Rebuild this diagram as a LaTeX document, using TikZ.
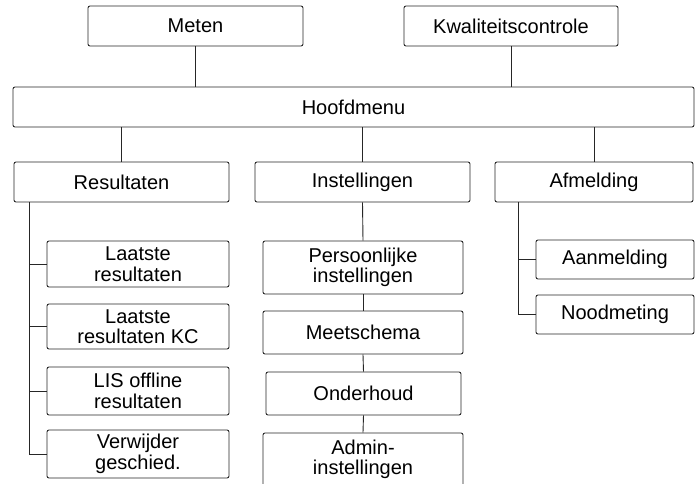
\documentclass[tikz,border=0pt]{standalone}
\usepackage{fontspec}
\setmainfont{Liberation Sans}
\usepackage{xcolor}
\usepackage{tikz}
\usetikzlibrary{positioning,calc}
\tikzset{
    menu/.style={draw=black!85,line width=0.9pt,rounded corners=2pt,fill=white,
        align=center,inner sep=0pt,font=\fontsize{20}{20.5}\selectfont},
    wide/.style={menu,minimum width=215pt,minimum height=40pt},
    sub/.style={menu,minimum width=182pt},
    link/.style={draw=black!85,line width=0.9pt}
}
\begin{document}
\begin{tikzpicture}[x=1pt,y=-1pt]
  \clip (0,0) rectangle (697,484);
  % top level
  \node[wide] (meten) at (195.5,26) {Meten};
  \node[wide,minimum width=214pt] (kc) at (511,26) {Kwaliteitscontrole};
  \node[menu,minimum width=681pt,minimum height=40pt] (hoofd) at (353.5,107) {Hoofdmenu};
  % second level
  \node[wide] (res) at (121.5,182) {Resultaten};
  \node[wide] (inst) at (362.5,182) {Instellingen};
  \node[wide,minimum width=198pt] (afm) at (594,182) {Afmelding};
  % Resultaten submenu
  \node[sub,minimum height=46pt] (lr) at (138,264) {Laatste\\resultaten};
  \node[sub,minimum height=45pt] (lrkc) at (138,326.5) {Laatste\\resultaten KC};
  \node[sub,minimum height=48pt] (lis) at (138,391) {LIS offline\\resultaten};
  \node[sub,minimum height=48pt] (verw) at (138,454) {Verwijder\\geschied.};
  % Instellingen submenu
  \node[menu,minimum width=200pt,minimum height=53pt] (pers) at (363,267.5) {Persoonlijke\\instellingen};
  \node[menu,minimum width=200pt,minimum height=43pt] (meet) at (363,332.5) {Meetschema};
  \node[menu,minimum width=195pt,minimum height=43pt] (ond) at (363.5,393.5) {Onderhoud};
  \node[menu,minimum width=200pt,minimum height=53pt] (admin) at (363,459.5) {Admin-\\instellingen};
  % Afmelding submenu
  \node[menu,minimum width=158pt,minimum height=39pt] (aanm) at (615,259.5) {Aanmelding};
  \node[menu,minimum width=158pt,minimum height=39pt] (nood) at (615,314.5) {Noodmeting};
  % links to Hoofdmenu
  \draw[link] (meten) -- (meten |- hoofd.north);
  \draw[link] (kc) -- (kc |- hoofd.north);
  \draw[link] (res.north) -- (res |- hoofd.south);
  \draw[link] (inst.north) -- (inst |- hoofd.south);
  \draw[link] (afm.north) -- (afm |- hoofd.south);
  % Resultaten trunk
  \coordinate (rt) at (29,202);
  \draw[link] (rt) |- (verw.west);
  \draw[link] (rt |- lr.west) -- (lr.west);
  \draw[link] (rt |- lrkc.west) -- (lrkc.west);
  \draw[link] (rt |- lis.west) -- (lis.west);
  % Instellingen chain
  \draw[link] (inst.south) -- (pers.north);
  \draw[link] (pers.south) -- (meet.north);
  \draw[link] (meet.south) -- (ond.north);
  \draw[link] (ond.south) -- (admin.north);
  % Afmelding trunk
  \coordinate (at) at (518,202);
  \draw[link] (at) |- (nood.west);
  \draw[link] (at |- aanm.west) -- (aanm.west);
\end{tikzpicture}
\end{document}
